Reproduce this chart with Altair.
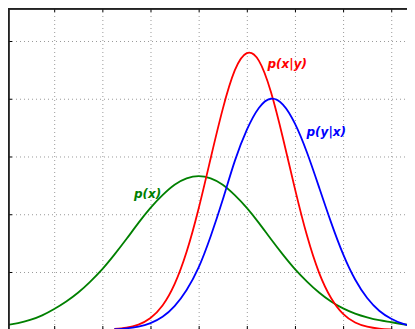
import altair as alt
import pandas as pd

# ---- data ----
x_vals = [0.0, 0.25, 0.5, 0.75, 1.0, 1.25, 1.5, 1.75, 2.0, 2.25, 2.5, 2.75,
          3.0, 3.25, 3.5, 3.75, 4.0, 4.25, 4.5, 4.75, 5.0, 5.25, 5.5, 5.75,
          6.0, 6.25, 6.5, 6.75, 7.0, 7.25, 7.5, 7.75, 8.0, 8.25, 8.5]

p_x = [0.08, 0.115, 0.17, 0.25, 0.36, 0.49, 0.645, 0.835, 1.05, 1.30, 1.57, 1.85,
       2.11, 2.33, 2.51, 2.62, 2.66, 2.62, 2.51, 2.33, 2.11, 1.85, 1.57, 1.30,
       1.05, 0.835, 0.645, 0.49, 0.37, 0.28, 0.215, 0.165, 0.13, 0.095, 0.07]

p_x_given_y = [0.0, 0.0, 0.0, 0.0, 0.0, 0.0, 0.0, 0.001, 0.004, 0.013, 0.036, 0.09,
               0.204, 0.42, 0.79, 1.35, 2.10, 2.97, 3.82, 4.49, 4.79, 4.66, 4.12, 3.32,
               2.44, 1.63, 0.99, 0.55, 0.275, 0.126, 0.053, 0.02, 0.007, 0.002, 0.0]

p_y_given_x = [0.0, 0.0, 0.0, 0.0, 0.0, 0.0, 0.0, 0.0, 0.004, 0.01, 0.025, 0.055,
               0.115, 0.225, 0.41, 0.69, 1.08, 1.62, 2.25, 2.92, 3.46, 3.84, 4.0, 3.90,
               3.57, 3.07, 2.47, 1.86, 1.31, 0.87, 0.55, 0.33, 0.19, 0.10, 0.05]

series_names = ["p(x)", "p(x|y)", "p(y|x)"]
series_colors = ["#008000", "#ff0000", "#0000ff"]

grid_x = [1, 2, 3, 4, 5, 6, 7, 8]
grid_y = [1, 2, 3, 4, 5]

label_text = ["p(x)", "p(x|y)", "p(y|x)"]
label_x = [2.655, 5.43, 6.24]
label_y = [2.357, 4.61, 3.42]

# ---- tables ----
rows = []
for name, vals in zip(series_names, [p_x, p_x_given_y, p_y_given_x]):
    for xv, yv in zip(x_vals, vals):
        rows.append({"x": xv, "y": yv, "series": name})
curves = pd.DataFrame(rows)
labels = pd.DataFrame({"x": label_x, "y": label_y, "text": label_text, "series": label_text})
xt = pd.DataFrame({"x": grid_x})
yt = pd.DataFrame({"y": grid_y})

W, H = 399, 322
xs = alt.Scale(domain=[0.0405, 0.0405 + W / 48.15], nice=False, zero=False)
ys = alt.Scale(domain=[5.5714 - H / 57.75, 5.5714], nice=False, zero=False)
cs = alt.Scale(domain=series_names, range=series_colors)

grid_style = dict(color="#9a9a9a", strokeWidth=1, strokeDash=[1, 3])
vgrid = alt.Chart(xt).mark_rule(xOffset=0.5, **grid_style).encode(
    x=alt.X("x:Q", scale=xs, axis=None), y=alt.value(0), y2=alt.value(H))
hgrid = alt.Chart(yt).mark_rule(yOffset=0.5, **grid_style).encode(
    y=alt.Y("y:Q", scale=ys, axis=None), x=alt.value(0), x2=alt.value(W))

lines = alt.Chart(curves).transform_filter("datum.y >= 0.005").mark_line(
    strokeWidth=1.8, interpolate="natural", clip=True
).encode(
    x=alt.X("x:Q", scale=xs, axis=None),
    y=alt.Y("y:Q", scale=ys, axis=None),
    color=alt.Color("series:N", scale=cs, legend=None),
    detail="series:N",
)

text = alt.Chart(labels).mark_text(
    align="left", baseline="middle", font="DejaVu Sans",
    fontStyle="italic", fontWeight="bold", fontSize=12
).encode(
    x=alt.X("x:Q", scale=xs, axis=None),
    y=alt.Y("y:Q", scale=ys, axis=None),
    text="text:N",
    color=alt.Color("series:N", scale=cs, legend=None),
)

tick_style = dict(color="black", strokeWidth=1)
top_ticks = alt.Chart(xt).mark_rule(xOffset=0.5, **tick_style).encode(
    x=alt.X("x:Q", scale=xs, axis=None), y=alt.value(0), y2=alt.value(4))
bottom_ticks = alt.Chart(xt).mark_rule(xOffset=0.5, **tick_style).encode(
    x=alt.X("x:Q", scale=xs, axis=None), y=alt.value(H - 4), y2=alt.value(H))
left_ticks = alt.Chart(yt).mark_rule(yOffset=0.5, **tick_style).encode(
    y=alt.Y("y:Q", scale=ys, axis=None), x=alt.value(0), x2=alt.value(4))

left_spine = alt.Chart(xt).mark_rule(color="#222", strokeWidth=1.2).encode(
    x=alt.value(0.6), y=alt.value(0), y2=alt.value(H))
top_spine = alt.Chart(xt).mark_rule(color="#222", strokeWidth=1.2).encode(
    y=alt.value(0.6), x=alt.value(0), x2=alt.value(W))

chart = alt.layer(
    vgrid, hgrid, lines, text, top_ticks, bottom_ticks, left_ticks, left_spine, top_spine
).properties(
    width=W, height=H,
    autosize=alt.AutoSizeParams(type="none"),
    padding=0,
).configure_view(stroke="transparent")

chart.save("out.html", embed_options={"renderer": "svg", "actions": False})
